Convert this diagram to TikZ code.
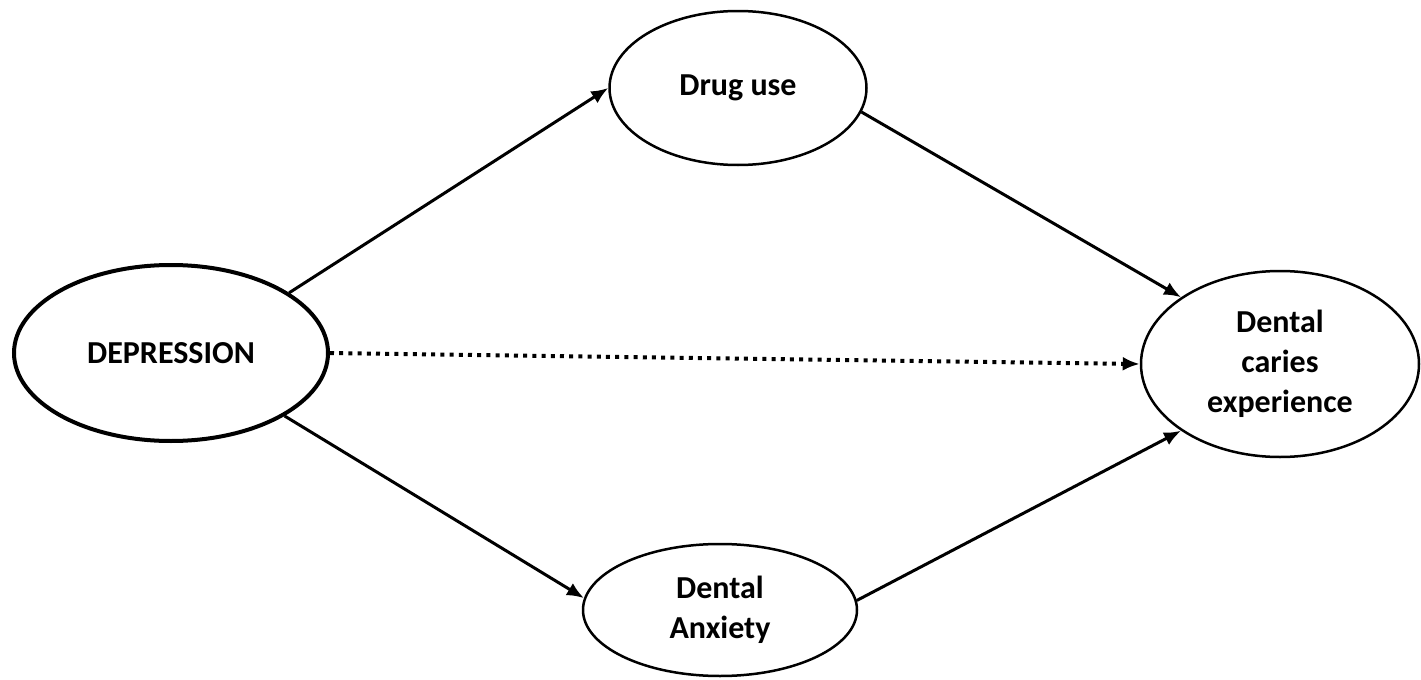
\documentclass[tikz,border=0pt]{standalone}
\usepackage{fontspec}
\setmainfont{Carlito}
\usetikzlibrary{positioning,shapes,arrows.meta}
\tikzset{
var/.style={ellipse, draw, line width=1.25pt, inner sep=0pt, align=center,
  font=\fontsize{16}{20}\selectfont\bfseries},
path/.style={line width=1.5pt, -{Latex[length=8.5pt,width=7pt]}}
}

\begin{document}
\begin{tikzpicture}[x=0.5pt,y=-0.5pt]
  \useasboundingbox (0,0) rectangle (1421,680);
  \node[var, line width=2pt, minimum width=157pt, minimum height=88pt] (dep) at (171,353) {DEPRESSION};
  \node[var, minimum width=128.5pt, minimum height=77pt] (drug) at (738,88) {Drug use};
  \node[var, minimum width=137pt, minimum height=66pt] (anx) at (720,610) {Dental\\Anxiety};
  \node[var, minimum width=139pt, minimum height=93pt] (dmft) at (1280,364) {Dental\\caries\\experience};
  \draw[path] (dep.27) -- (drug.west);
  \draw[path] (drug.-11) -- (dmft.146);
  \draw[path] (dep.-29) -- (anx.175);
  \draw[path] (anx.4) -- (dmft.214);
%  direct effect
  \draw[path, line width=2pt, dash pattern=on 2pt off 2.6pt] (dep.east) -- (dmft.west);
\end{tikzpicture}
\end{document}
